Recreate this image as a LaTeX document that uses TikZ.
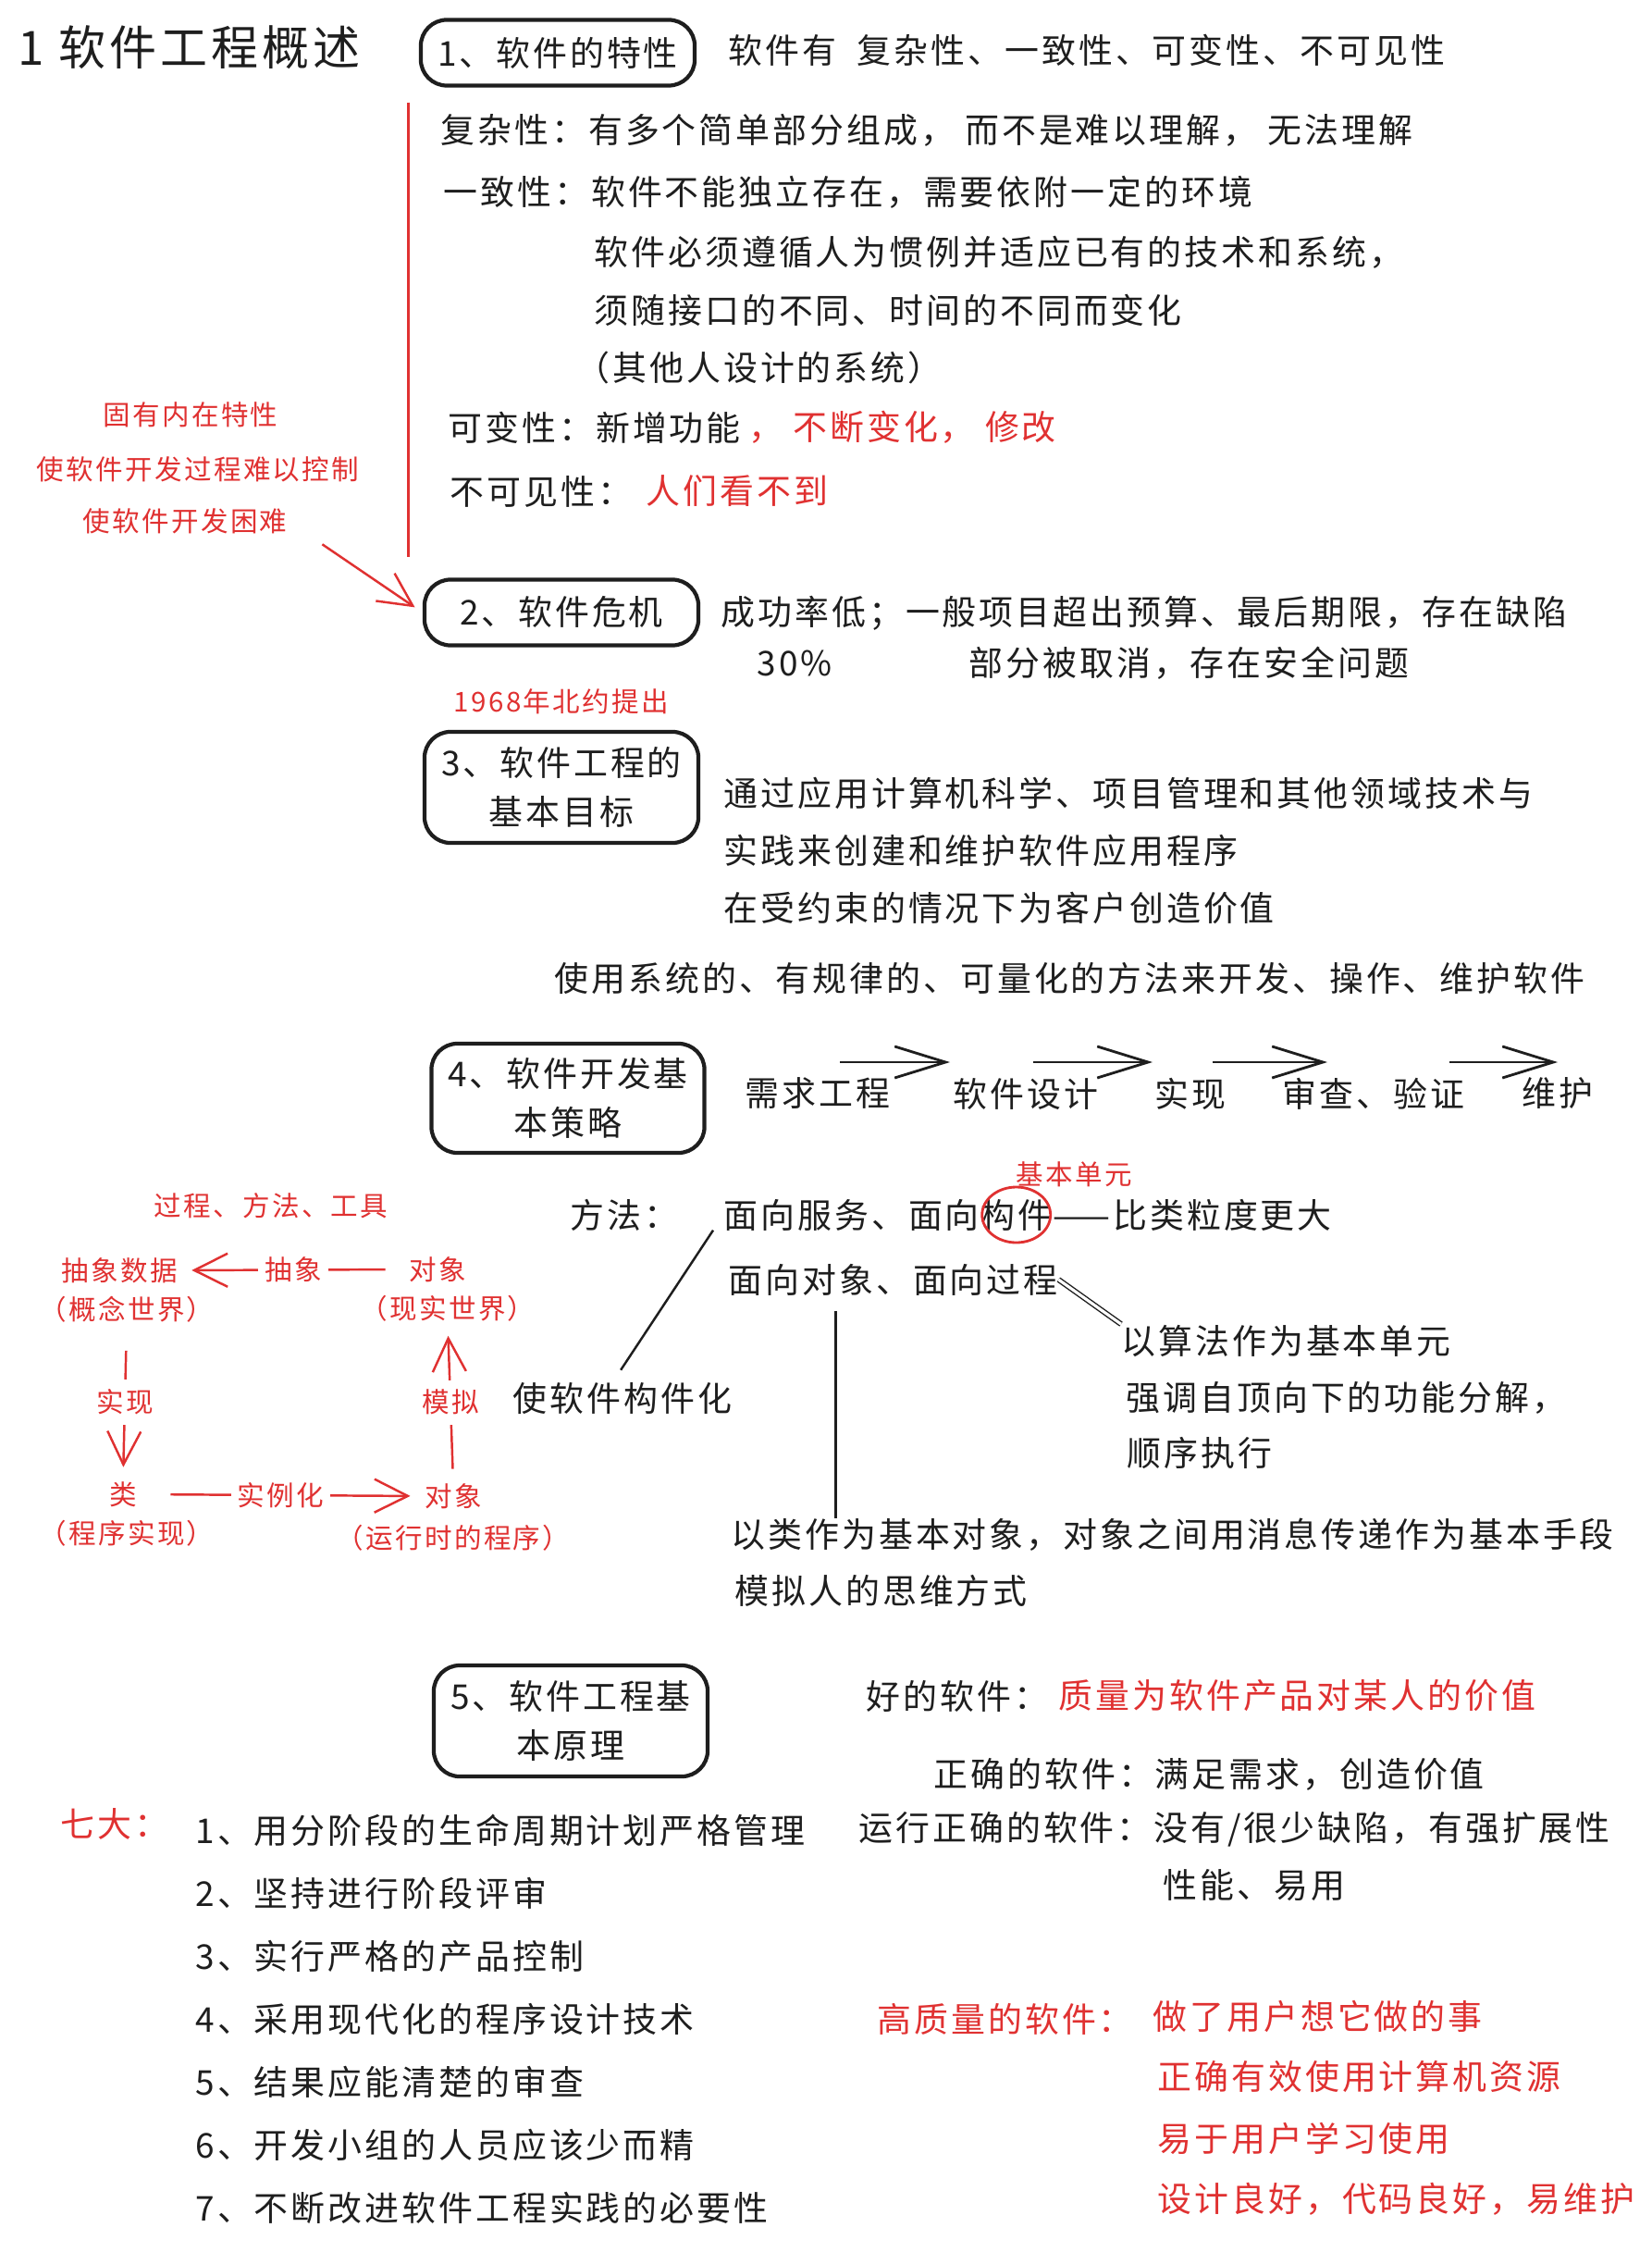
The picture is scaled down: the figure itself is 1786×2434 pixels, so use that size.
\documentclass[tikz,border=0pt]{standalone}
\usepackage{fontspec}
\usepackage{tikz}
\usetikzlibrary{arrows.meta,positioning,calc}
\setmainfont{Noto Sans CJK SC}[LetterSpace=8]
\definecolor{ink}{HTML}{1E1E1E}
\definecolor{inkred}{HTML}{E03131}
\newcommand{\bodysize}{\fontsize{10.5}{15}\selectfont}
\newcommand{\notesize}{\fontsize{8.4}{12}\selectfont}
\newcommand{\headsize}{\fontsize{14.5}{17}\selectfont}

\begin{document}
\begin{tikzpicture}[x=0.01cm, y=-0.01cm,
    txt/.style={anchor=west, inner sep=0pt, text=ink, font=\bodysize},
    redtxt/.style={txt, text=inkred},
    note/.style={inner sep=0pt, text=inkred, font=\notesize, align=center},
    box/.style={draw=ink, line width=1.2pt, rounded corners=8pt, minimum width=2.96cm,
                align=center, text=ink, font=\bodysize},
    flow/.style={draw=ink, line width=0.8pt, -{Straight Barb[length=5.5mm,width=3.4mm]}},
    redarrow/.style={draw=inkred, line width=0.7pt, -{Straight Barb[length=3.6mm,width=3.6mm]}},
    link/.style={draw=ink, line width=0.7pt}]
                % Page
                \fill[white] (0,0) rectangle (1786,2434);
                \useasboundingbox (0,0) rectangle (1786,2434);

                % Title and the five boxes
                \node[txt, font=\headsize] (title) at (19,51) {1 软件工程概述};
                \node[box, minimum height=0.71cm] (feat) at (603,57) {1、软件的特性};
                \node[box, minimum height=0.71cm] (crisis) at (607,662) {2、软件危机};
                \node[box, minimum height=1.2cm] (goal) at (607,851) {3、软件工程的\\基本目标};
                \node[box, minimum height=1.18cm, minimum width=2.95cm] (strat) at (614,1187) {4、软件开发基\\本策略};
                \node[box, minimum height=1.2cm] (princ) at (617,1860) {5、软件工程基\\本原理};

                % 1 - characteristics
                \node[txt] (featlist) at (787,54) {软件有\ \ 复杂性、一致性、可变性、不可见性};
                \node[txt] (cplx) at (476,141) {复杂性：有多个简单部分组成，\ 而不是难以理解，\ 无法理解};
                \node[txt] (cons) at (479,208) {一致性：软件不能独立存在，需要依附一定的环境};
                \node[txt] (cons2) at (642,273) {软件必须遵循人为惯例并适应已有的技术和系统，};
                \node[txt] (cons3) at (642,335) {须随接口的不同、时间的不同而变化};
                \node[txt] (cons4) at (622,397) {（其他人设计的系统）};
                \node[txt] (chg) at (484,462) {可变性：新增功能};
                \node[redtxt, right=2pt of chg] (chg2) {，\ 不断变化，\ 修改};
                \node[txt] (invis) at (486,531) {不可见性：};
                \node[redtxt] (invis2) at (698,531) {人们看不到};
                \coordinate (featTop) at ($(feat.south west)+(-11,16)$);
                \draw[inkred, line width=0.8pt] (featTop) -- ++(0,491);

                % red notes on the left
                \node[note] (inner) at (206,448) {固有内在特性};
                \node[note] (ctrl) at (214,507) {使软件开发过程难以控制};
                \node[note] (hard) at (200,563) {使软件开发困难};
                \draw[redarrow, shorten <=0.45cm, shorten >=0.1cm] (hard.east) -- (crisis.west);

                % 2 - crisis
                \node[txt] (rate) at (779,663) {成功率低；一般项目超出预算、最后期限，存在缺陷};
                \node[txt] (pct) at (818,717) {30\%};
                \node[txt] (cancel) at (1047,717) {部分被取消，存在安全问题};

                % 3 - goal
                \node[note, above=0.16cm of goal] (nato) {1968年北约提出};
                \node[txt] (g1) at (782,857) {通过应用计算机科学、项目管理和其他领域技术与};
                \node[txt] (g2) at (782,919) {实践来创建和维护软件应用程序};
                \node[txt] (g3) at (782,981) {在受约束的情况下为客户创造价值};
                \node[txt] (g4) at (599,1057) {使用系统的、有规律的、可量化的方法来开发、操作、维护软件};

                % 4 - strategy
                \foreach \n/\x/\t in {req/805/需求工程, des/1030/软件设计, impl/1248/实现, rev/1386/审查、验证, maint/1645/维护}
                    \node[txt] (\n) at (\x,1182) {\t};
                \foreach \k/\s/\e in {1/908/1027, 2/1117/1246, 3/1311/1435, 4/1567/1684}
                {
                    \coordinate (fs\k) at (\s,1148);
                    \coordinate (fe\k) at (\e,1148);
                    \draw[flow] (fs\k) -- (fe\k);
                }

                % methods
                \node[txt] (meth) at (616,1313) {方法：};
                \node[txt] (svc) at (782,1313) {面向服务、面向};
                \node[txt, right=0pt of svc] (comp) {构件};
                \node[txt, right=0pt of comp] (coarse) {——比类粒度更大};
                \draw[inkred, line width=0.8pt] (comp.center) ellipse [x radius=37, y radius=30];
                \node[note] (unit) at (1161,1269) {基本单元};
                \node[txt] (proc) at (787,1383) {面向对象、面向过程};
                \node[txt] (algo) at (1212,1449) {以算法作为基本单元};
                \node[txt] (topdown) at (1217,1511) {强调自顶向下的功能分解，};
                \node[txt] (seq) at (1218,1570) {顺序执行};
                \node[txt] (oop) at (790,1659) {以类作为基本对象，对象之间用消息传递作为基本手段};
                \node[txt] (mind) at (794,1719) {模拟人的思维方式};
                \node[txt] (cbs) at (554,1511) {使软件构件化};
                \draw[link, shorten <=0.2cm, shorten >=0.15cm] (svc.west) -- ([xshift=-0.1cm]cbs.north);
                \draw[link, double, double distance=0.9pt, line width=0.4pt] (proc.east) -- (algo.north west);
                \coordinate (oopTop) at ($(proc.south)+(-62,16)$);
                \draw[link] (oopTop) -- (oopTop |- oop.north);

                % red model: concept / reality / program
                \node[note] (tools) at (293,1303) {过程、方法、工具};
                \node[note] (absobj) at (129,1373) {抽象数据};
                \node[note] (abstxt) at (137,1415) {（概念世界）};
                \node[note] (realobj) at (473,1372) {对象};
                \node[note] (realtxt) at (484,1414) {（现实世界）};
                \node[note] (clsobj) at (133,1615) {类};
                \node[note] (clstxt) at (137,1657) {（程序实现）};
                \node[note] (runobj) at (490,1617) {对象};
                \node[note] (runtxt) at (490,1662) {（运行时的程序）};
                \draw[redarrow, shorten <=0.25cm, shorten >=0.15cm] (realobj.west) -- node[fill=white, note, inner sep=2pt] {抽象} (absobj.east);
                \draw[redarrow, shorten <=0.3cm, shorten >=0.15cm] (abstxt.south) -- node[fill=white, note, inner sep=3pt] {实现} (clsobj.north);
                \draw[redarrow, shorten <=0.36cm, shorten >=0.15cm] (clsobj.east) -- node[fill=white, note, inner sep=2pt] {实例化} (runobj.west);
                \draw[redarrow, shorten <=0.15cm, shorten >=0.15cm] (runobj.north) -- node[fill=white, note, inner sep=3pt] {模拟} (realtxt.south);

                % 5 - principles
                \node[redtxt] (seven) at (65,1971) {七大：};
                \foreach \t [count=\k] in {用分阶段的生命周期计划严格管理, 坚持进行阶段评审, 实行严格的产品控制,
                        采用现代化的程序设计技术, 结果应能清楚的审查, 开发小组的人员应该少而精, 不断改进软件工程实践的必要性}
                    \node[txt] (p\k) at (211,{1910+68*\k}) {\k、\t};

                % good software
                \node[txt] (good) at (936,1833) {好的软件：};
                \node[redtxt] (good2) at (1144,1833) {质量为软件产品对某人的价值};
                \node[txt] (right) at (1009,1918) {正确的软件：满足需求，创造价值};
                \node[txt] (runright) at (928,1977) {运行正确的软件：没有/很少缺陷，有强扩展性};
                \node[txt] (perf) at (1257,2037) {性能、易用};
                \node[redtxt] (hq) at (948,2182) {高质量的软件：};
                \node[redtxt] (hq1) at (1246,2179) {做了用户想它做的事};
                \node[redtxt] (hq2) at (1251,2244) {正确有效使用计算机资源};
                \node[redtxt] (hq3) at (1251,2311) {易于用户学习使用};
                \node[redtxt] (hq4) at (1251,2377) {设计良好，代码良好，易维护};
            \end{tikzpicture}
\end{document}
